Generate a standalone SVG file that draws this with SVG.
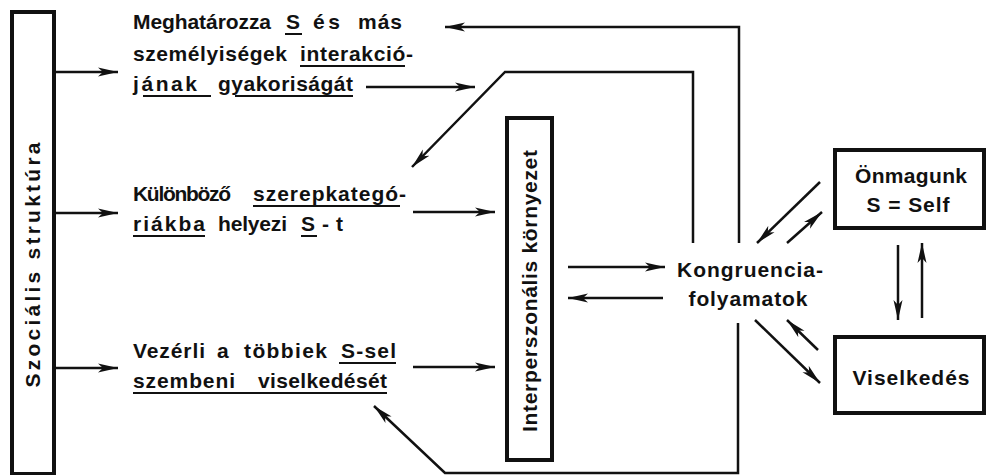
<svg xmlns="http://www.w3.org/2000/svg" width="987" height="475" viewBox="0 0 987 475">
<style>
.t{font-family:"Liberation Sans",Arial,sans-serif;font-weight:bold;font-size:21px;fill:#111}
.m{text-anchor:middle}
.box{fill:none;stroke:#111;stroke-width:4}
.ul{stroke:#111;stroke-width:2;fill:none}
.c{stroke:#111;stroke-width:2.5;fill:none}
.a{stroke:#111;stroke-width:2.5;fill:none;marker-end:url(#ah)}
</style>
<defs>
<marker id="ah" markerUnits="userSpaceOnUse" markerWidth="22" markerHeight="10" refX="20" refY="5" orient="auto">
<path d="M0,0.5 L20,5 L0,9.5 L5,5 z" fill="#111"/>
</marker>
</defs>
<rect width="987" height="475" fill="#fff"/>

<g id="social-structure">
<rect class="box" x="12" y="12" width="42" height="462"/>
<text class="t m" transform="translate(40,265) rotate(-90)" textLength="245">Szociális struktúra</text>
</g>

<g id="frequency">
<text class="t" x="133" y="29" textLength="138">Meghatározza</text>
<text class="t" x="286" y="29" textLength="13">S</text>
<text class="t" x="313" y="29" textLength="27">és</text>
<text class="t" x="358" y="29" textLength="44">más</text>
<text class="t" x="133" y="61" textLength="154">személyiségek</text>
<text class="t" x="300" y="61" textLength="113">interakció-</text>
<text class="t" x="133" y="91" textLength="64">jának</text>
<text class="t" x="218" y="91" textLength="135">gyakoriságát</text>
<path class="ul" d="M285,34 H302 M300,66 H405 M143,96 H211 M235,96 H353"/>
</g>

<g id="role-categories">
<text class="t" x="133" y="201" textLength="98">Különböző</text>
<text class="t" x="253" y="201" textLength="153">szerepkategó-</text>
<text class="t" x="133" y="231" textLength="72">riákba</text>
<text class="t" x="218" y="231" textLength="69">helyezi</text>
<text class="t" x="301" y="231" textLength="42">S-t</text>
<path class="ul" d="M253,206 H400 M133,236 H205 M301,236 H317"/>
</g>

<g id="others-behaviour">
<text class="t" x="133" y="358" textLength="72">Vezérli</text>
<text class="t" x="217" y="358" textLength="13">a</text>
<text class="t" x="244" y="358" textLength="83">többiek</text>
<text class="t" x="341" y="358" textLength="55">S-sel</text>
<text class="t" x="133" y="388" textLength="102">szembeni</text>
<text class="t" x="258" y="388" textLength="129">viselkedését</text>
<path class="ul" d="M339,363 H396 M133,393 H387"/>
</g>

<g id="interpersonal">
<rect class="box" x="507" y="118" width="45" height="342"/>
<text class="t m" transform="translate(537,291) rotate(-90)" textLength="282">Interperszonális környezet</text>
</g>

<g id="congruence">
<text class="t m" x="750" y="277" textLength="146">Kongruencia-</text>
<text class="t m" x="748" y="306" textLength="119">folyamatok</text>
</g>

<g id="self">
<rect class="box" x="835" y="150" width="149" height="78"/>
<text class="t m" x="911" y="183" textLength="112">Önmagunk</text>
<text class="t m" x="908" y="212" textLength="83">S = Self</text>
</g>

<g id="behaviour">
<rect class="box" x="835" y="337" width="149" height="76"/>
<text class="t m" x="911" y="385" textLength="117">Viselkedés</text>
</g>

<g id="connectors">
<path class="a" d="M55,72 H118"/>
<path class="a" d="M55,213 H118"/>
<path class="a" d="M55,368 H118"/>
<path class="a" d="M366,87 H475"/>
<path class="a" d="M413,212 H495"/>
<path class="a" d="M413,367 H495"/>
<path class="a" d="M739,243 V27 H445"/>
<path class="a" d="M693,243 V72 H505 L412,167"/>
<path class="a" d="M738,323 V473 H445 L374,406"/>
<path class="a" d="M568,267 H665"/>
<path class="a" d="M663,298 H568"/>
<path class="a" d="M820,182 L757,243"/>
<path class="a" d="M787,243 L822,212"/>
<path class="a" d="M755,320 L820,383"/>
<path class="a" d="M818,350 L787,320"/>
<path class="a" d="M898,245 V320"/>
<path class="a" d="M922,318 V243"/>
</g>
</svg>
